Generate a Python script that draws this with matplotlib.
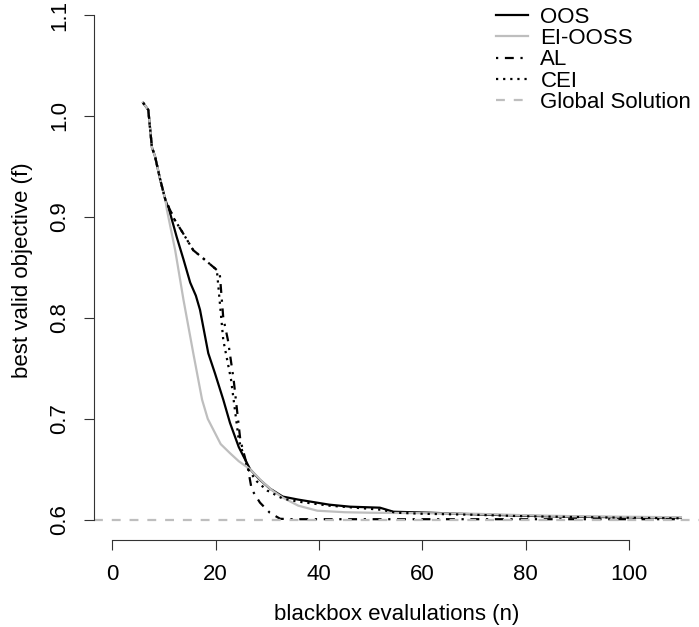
import matplotlib
matplotlib.use("Agg")
import matplotlib.pyplot as plt

plt.rcParams["font.family"] = ["Liberation Sans", "DejaVu Sans"]

# ---------------------------------------------------------------------------
# Data (best valid objective vs evaluations)
# ---------------------------------------------------------------------------

start_n = [6, 7, 7.7, 8.3, 9.3, 10.3]
start_f = [1.013, 1.006, 0.969, 0.960, 0.937, 0.917]

oos_n = start_n + [11.2, 12.5, 13.8, 15.1, 16.2, 17, 18.6, 19.9, 21.5, 22.8,
                   24.5, 26.7, 28.5, 30.5, 33, 36, 42, 46, 51.8, 54.4,
                   61.5, 70, 80, 90, 100, 110]
oos_f = start_f + [0.904, 0.880, 0.858, 0.835, 0.822, 0.808, 0.765, 0.745,
                   0.719, 0.696, 0.672, 0.650, 0.640, 0.631, 0.623, 0.620,
                   0.615, 0.613, 0.612, 0.608, 0.607, 0.6055, 0.604, 0.603,
                   0.6025, 0.602]

ei_n = start_n + [10.6, 12.2, 13.8, 15.7, 17.4, 18.5, 20, 21, 22.8, 24.5,
                  26.7, 29, 31, 33, 36, 39.7, 45, 50, 61.5, 70, 80, 90,
                  100, 110]
ei_f = start_f + [0.907, 0.867, 0.818, 0.765, 0.719, 0.700, 0.685, 0.675,
                  0.666, 0.658, 0.650, 0.638, 0.629, 0.622, 0.614, 0.609,
                  0.6075, 0.607, 0.6065, 0.606, 0.6045, 0.6035, 0.603,
                  0.6025]

al_n = start_n + [12, 13.7, 15.7, 17.6, 19.9, 20.8, 21.5, 22.4, 23.5, 24.8,
                  26.3, 27, 28.6, 30.5, 32.5, 35, 50, 70, 90, 110]
al_f = start_f + [0.898, 0.884, 0.867, 0.859, 0.849, 0.845, 0.800, 0.778,
                  0.739, 0.679, 0.650, 0.630, 0.617, 0.607, 0.601, 0.6006,
                  0.6006, 0.6006, 0.6006, 0.6006]

cei_n = start_n + [12, 13.7, 15.7, 17.6, 19.9, 20.3, 21.5, 23, 24.5, 26.3,
                   28, 30, 33, 36, 42, 52, 55, 60, 70, 80, 100, 110]
cei_f = start_f + [0.898, 0.884, 0.867, 0.859, 0.849, 0.845, 0.778, 0.739,
                   0.679, 0.650, 0.638, 0.629, 0.621, 0.618, 0.614, 0.610,
                   0.607, 0.606, 0.605, 0.6035, 0.602, 0.6015]

global_solution = 0.6

x_ticks = [0, 20, 40, 60, 80, 100]
y_ticks = [0.6, 0.7, 0.8, 0.9, 1.0, 1.1]

GRAY = "#bebebe"
FS = 16

# ---------------------------------------------------------------------------
# Plot
# ---------------------------------------------------------------------------

fig = plt.figure(figsize=(6.99, 6.27), dpi=100)
ax = fig.add_axes([94 / 699, 87 / 627, 1 - 94 / 699, 540 / 627])

ax.plot(oos_n, oos_f, color="black", lw=1.6, label="OOS")
ax.plot(ei_n, ei_f, color=GRAY, lw=1.6, label="EI-OOSS")
ax.plot(al_n, al_f, color="black", lw=1.6, ls=(0, (1, 3, 4, 3)), label="AL")
ax.plot(cei_n, cei_f, color="black", lw=1.6, ls=(0, (1, 2.2)), label="CEI")
ax.axhline(global_solution, color=GRAY, lw=1.6, ls=(0, (4, 4)),
           label="Global Solution")

ax.set_xlim(-3.5, 113.5)
ax.set_ylim(0.58, 0.6 + 520 / 1010)

for side in ("top", "right"):
    ax.spines[side].set_visible(False)
ax.spines["left"].set_bounds(0.6, 1.1)
ax.spines["bottom"].set_bounds(0, 100)
for side in ("left", "bottom"):
    ax.spines[side].set_linewidth(0.8)
    ax.spines[side].set_color("#333333")

ax.set_xticks(x_ticks)
ax.set_yticks(y_ticks)
ax.set_xticklabels([str(v) for v in x_ticks])
ax.set_yticklabels([f"{v:.1f}" for v in y_ticks], rotation=90, va="center")
ax.tick_params(length=7, width=0.8, color="#333333", labelsize=FS)
ax.tick_params(axis="x", pad=10)
ax.tick_params(axis="y", pad=10)

ax.set_xlabel("blackbox evalulations (n)", fontsize=FS, labelpad=14)
ax.set_ylabel("best valid objective (f)", fontsize=FS, labelpad=12)

ax.legend(loc="upper left", bbox_to_anchor=(496 / 699, 1 - 7 / 627),
          bbox_transform=fig.transFigure, frameon=False, fontsize=FS,
          handlelength=1.45, handletextpad=0.55, labelspacing=0.01,
          borderpad=0, borderaxespad=0)

fig.savefig("out.png", dpi=100)
